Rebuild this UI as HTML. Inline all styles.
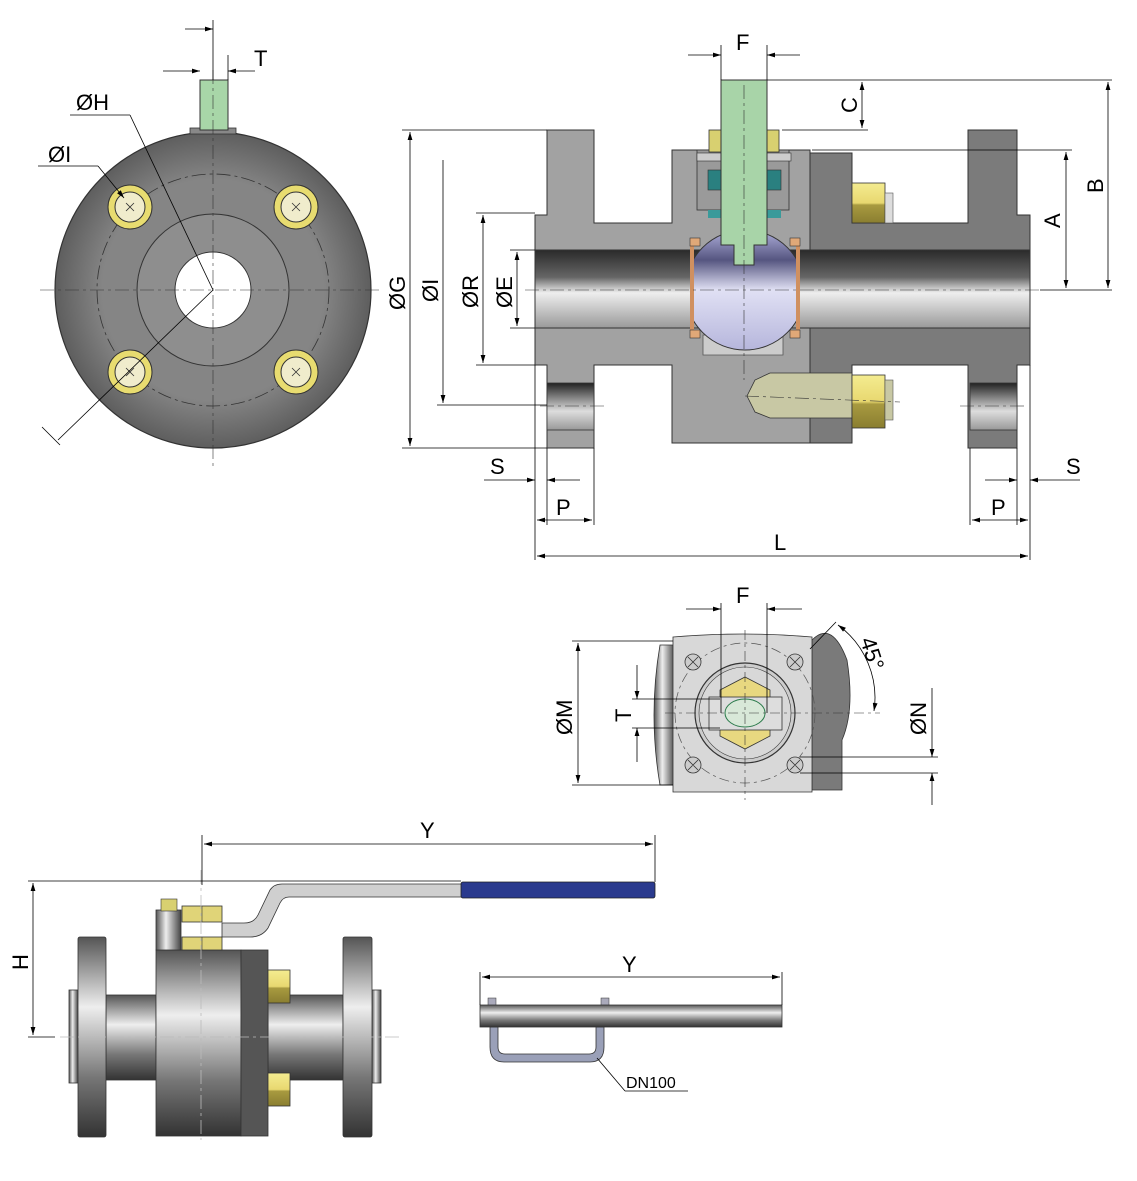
<!DOCTYPE html>
<html><head><meta charset="utf-8"><style>
html,body{margin:0;padding:0;background:#fff}
svg{display:block}
text{font-family:"Liberation Sans",sans-serif;fill:#000}
</style></head><body>
<svg width="1137" height="1181" viewBox="0 0 1137 1181" xmlns="http://www.w3.org/2000/svg">
<defs>
<marker id="a" viewBox="0 0 10 6" refX="10" refY="3" markerWidth="14" markerHeight="6" orient="auto-start-reverse"><path d="M0,0 L10,3 L0,6 z" fill="#000"/></marker>
<linearGradient id="bore" x1="0" y1="0" x2="0" y2="1"><stop offset="0" stop-color="#2a2a2a"/><stop offset="0.35" stop-color="#666"/><stop offset="0.55" stop-color="#eee"/><stop offset="1" stop-color="#999"/></linearGradient>
<linearGradient id="ball" x1="0" y1="0" x2="0" y2="1"><stop offset="0" stop-color="#b0b0dc"/><stop offset="0.25" stop-color="#555580"/><stop offset="0.5" stop-color="#e0e0f4"/><stop offset="1" stop-color="#b6b6dc"/></linearGradient>
<linearGradient id="cyl" x1="0" y1="0" x2="0" y2="1"><stop offset="0" stop-color="#555"/><stop offset="0.35" stop-color="#eee"/><stop offset="0.7" stop-color="#777"/><stop offset="1" stop-color="#333"/></linearGradient>
<linearGradient id="cylh" x1="0" y1="0" x2="1" y2="0"><stop offset="0" stop-color="#555"/><stop offset="0.4" stop-color="#eee"/><stop offset="1" stop-color="#444"/></linearGradient>
<linearGradient id="hole" x1="0" y1="0" x2="0" y2="1"><stop offset="0" stop-color="#222"/><stop offset="0.6" stop-color="#ddd"/><stop offset="1" stop-color="#999"/></linearGradient>
<radialGradient id="disk" cx="0.5" cy="0.5" r="0.5"><stop offset="0.7" stop-color="#858585"/><stop offset="1" stop-color="#5e5e5e"/></radialGradient>
<linearGradient id="nut" x1="0" y1="0" x2="0" y2="1"><stop offset="0" stop-color="#f4ec90"/><stop offset="0.5" stop-color="#e8d870"/><stop offset="0.55" stop-color="#a89a40"/><stop offset="1" stop-color="#8a7e30"/></linearGradient>
</defs>

<!-- ============ FRONT FLANGE VIEW ============ -->
<circle cx="213" cy="290" r="158" fill="url(#disk)" stroke="#333" stroke-width="1.2"/>
<circle cx="213" cy="290" r="116" fill="none" stroke="#333" stroke-width="0.8" stroke-dasharray="14 4 3 4"/>
<circle cx="213" cy="290" r="76" fill="#8e8e8e" stroke="#333" stroke-width="1"/>
<circle cx="213" cy="290" r="38" fill="#fff" stroke="#333" stroke-width="1"/>
<rect x="190" y="128" width="46" height="6" fill="#888" stroke="#333" stroke-width="0.8"/>
<rect x="200" y="80" width="28" height="50" fill="#a8d6a8" stroke="#333" stroke-width="1"/>
<line x1="213" y1="70" x2="213" y2="470" stroke="#333" stroke-width="0.6" stroke-dasharray="14 4 3 4"/>
<line x1="40" y1="290" x2="380" y2="290" stroke="#333" stroke-width="0.6" stroke-dasharray="14 4 3 4"/>
<g stroke="#333" stroke-width="1">
<circle cx="130" cy="207" r="22" fill="#e8dc70"/><circle cx="130" cy="207" r="15" fill="#f0eccc"/>
<circle cx="296" cy="207" r="22" fill="#e8dc70"/><circle cx="296" cy="207" r="15" fill="#f0eccc"/>
<circle cx="130" cy="372" r="22" fill="#e8dc70"/><circle cx="130" cy="372" r="15" fill="#f0eccc"/>
<circle cx="296" cy="372" r="22" fill="#e8dc70"/><circle cx="296" cy="372" r="15" fill="#f0eccc"/>
</g>
<g stroke="#333" stroke-width="0.8">
<path d="M126,203 l8,8 M134,203 l-8,8 M292,203 l8,8 M300,203 l-8,8 M126,368 l8,8 M134,368 l-8,8 M292,368 l8,8 M300,368 l-8,8"/>
</g>
<g stroke="#000" stroke-width="0.8" fill="none">
<line x1="213" y1="20" x2="213" y2="80"/>
<line x1="228" y1="55" x2="228" y2="80"/>
<line x1="185" y1="29" x2="213" y2="29" marker-end="url(#a)"/>
<line x1="163" y1="71" x2="200" y2="71" marker-end="url(#a)"/>
<line x1="255" y1="71" x2="228" y2="71" marker-end="url(#a)"/>
<line x1="70" y1="115" x2="130" y2="115"/>
<line x1="130" y1="115" x2="213" y2="290"/>
<line x1="38" y1="166" x2="98" y2="166"/>
<line x1="98" y1="166" x2="124" y2="198" marker-end="url(#a)"/>
<line x1="213" y1="290" x2="58" y2="440"/>
<line x1="42" y1="427" x2="60" y2="445"/>
</g>
<text x="254" y="66" font-size="22">T</text>
<text x="76" y="110" font-size="22">ØH</text>
<text x="48" y="162" font-size="22">ØI</text>

<!-- ============ SECTION VIEW ============ -->
<path d="M547,130 h47 v93 h78 v-73 h138 v293 h-138 v-78 h-78 v83 h-47 v-83 h-12 v-150 h12 z" fill="#a2a2a2" stroke="#333" stroke-width="1"/>
<path d="M810,153 h42 v70 h116 v-93 h49 v85 h13 v150 h-13 v83 h-49 v-83 h-116 v78 h-42 z" fill="#7b7b7b" stroke="#333" stroke-width="1"/>
<rect x="535" y="250" width="495" height="78" fill="url(#bore)" stroke="#333" stroke-width="1"/>
<rect x="547" y="383" width="47" height="47" fill="url(#hole)" stroke="#333" stroke-width="0.8"/>
<rect x="970" y="383" width="47" height="47" fill="url(#hole)" stroke="#333" stroke-width="0.8"/>
<path d="M703,335 h80 v20 h-80 z" fill="#ccc" stroke="#555" stroke-width="0.8"/>
<clipPath id="bc"><rect x="694" y="225" width="103" height="140"/></clipPath>
<circle cx="745" cy="290" r="60" fill="url(#ball)" stroke="#333" stroke-width="1" clip-path="url(#bc)"/>
<rect x="690" y="238" width="4" height="92" fill="#d09060"/>
<rect x="796" y="238" width="4" height="92" fill="#d09060"/>
<rect x="690" y="238" width="10" height="8" fill="#e0a878" stroke="#333" stroke-width="0.6"/>
<rect x="790" y="238" width="10" height="8" fill="#e0a878" stroke="#333" stroke-width="0.6"/>
<rect x="690" y="330" width="10" height="8" fill="#e0a878" stroke="#333" stroke-width="0.6"/>
<rect x="790" y="330" width="10" height="8" fill="#e0a878" stroke="#333" stroke-width="0.6"/>
<rect x="697" y="150" width="92" height="60" fill="#9a9a9a" stroke="#333" stroke-width="0.8"/>
<rect x="709" y="130" width="14" height="22" fill="#d8d070" stroke="#333" stroke-width="0.8"/>
<rect x="765" y="130" width="14" height="22" fill="#d8d070" stroke="#333" stroke-width="0.8"/>
<rect x="697" y="153" width="26" height="8" fill="#ccc" stroke="#333" stroke-width="0.6"/>
<rect x="765" y="153" width="26" height="8" fill="#ccc" stroke="#333" stroke-width="0.6"/>
<rect x="708" y="170" width="14" height="20" fill="#2a8080" stroke="#333" stroke-width="0.6"/>
<rect x="767" y="170" width="14" height="20" fill="#2a8080" stroke="#333" stroke-width="0.6"/>
<rect x="708" y="210" width="14" height="8" fill="#3a9a9a"/>
<rect x="767" y="210" width="14" height="8" fill="#3a9a9a"/>
<path d="M721,80 h46 v165 h-13 v20 h-20 v-20 h-13 z" fill="#a8d4a8" stroke="#333" stroke-width="1"/>
<rect x="852" y="183" width="33" height="40" fill="url(#nut)" stroke="#333" stroke-width="0.8"/>
<rect x="885" y="193" width="8" height="30" fill="#ddd" stroke="#555" stroke-width="0.6"/>
<path d="M770,373 h82 v45 h-82 l-15,-6 l-8,-16 l8,-16 z" fill="#c8c8a4" stroke="#333" stroke-width="0.8"/>
<rect x="852" y="375" width="33" height="53" fill="url(#nut)" stroke="#333" stroke-width="0.8"/>
<rect x="885" y="380" width="8" height="40" fill="#c8c8a4" stroke="#555" stroke-width="0.6"/>
<g stroke="#333" stroke-width="0.6" stroke-dasharray="14 4 3 4" fill="none">
<line x1="744" y1="85" x2="744" y2="380"/>
<line x1="525" y1="290" x2="1040" y2="290"/>
<line x1="540" y1="406" x2="605" y2="406"/>
<line x1="960" y1="406" x2="1025" y2="406"/>
<line x1="745" y1="396" x2="900" y2="402"/>
</g>
<g stroke="#000" stroke-width="0.8" fill="none">
<line x1="721" y1="45" x2="721" y2="80"/><line x1="767" y1="45" x2="767" y2="80"/>
<line x1="688" y1="55" x2="721" y2="55" marker-end="url(#a)"/>
<line x1="800" y1="55" x2="767" y2="55" marker-end="url(#a)"/>
<line x1="767" y1="80" x2="1112" y2="80"/>
<line x1="782" y1="130" x2="868" y2="130"/>
<line x1="862" y1="82" x2="862" y2="128" marker-start="url(#a)" marker-end="url(#a)"/>
<line x1="812" y1="150" x2="1072" y2="150"/>
<line x1="1040" y1="290" x2="1112" y2="290"/>
<line x1="1066" y1="152" x2="1066" y2="288" marker-start="url(#a)" marker-end="url(#a)"/>
<line x1="1108" y1="82" x2="1108" y2="288" marker-start="url(#a)" marker-end="url(#a)"/>
<line x1="402" y1="130" x2="547" y2="130"/>
<line x1="402" y1="448" x2="547" y2="448"/>
<line x1="410" y1="132" x2="410" y2="446" marker-start="url(#a)" marker-end="url(#a)"/>
<line x1="437" y1="405" x2="547" y2="405"/>
<line x1="443" y1="160" x2="443" y2="403" marker-end="url(#a)"/>
<line x1="476" y1="213" x2="535" y2="213"/>
<line x1="476" y1="365" x2="535" y2="365"/>
<line x1="483" y1="215" x2="483" y2="363" marker-start="url(#a)" marker-end="url(#a)"/>
<line x1="510" y1="250" x2="535" y2="250"/>
<line x1="510" y1="328" x2="535" y2="328"/>
<line x1="517" y1="252" x2="517" y2="326" marker-start="url(#a)" marker-end="url(#a)"/>
<line x1="535" y1="365" x2="535" y2="560"/>
<line x1="547" y1="448" x2="547" y2="525"/>
<line x1="594" y1="448" x2="594" y2="525"/>
<line x1="484" y1="480" x2="535" y2="480" marker-end="url(#a)"/>
<line x1="580" y1="480" x2="547" y2="480" marker-end="url(#a)"/>
<line x1="537" y1="520" x2="592" y2="520" marker-start="url(#a)" marker-end="url(#a)"/>
<line x1="1030" y1="365" x2="1030" y2="560"/>
<line x1="1017" y1="448" x2="1017" y2="525"/>
<line x1="970" y1="448" x2="970" y2="525"/>
<line x1="1080" y1="480" x2="1030" y2="480" marker-end="url(#a)"/>
<line x1="985" y1="480" x2="1017" y2="480" marker-end="url(#a)"/>
<line x1="972" y1="520" x2="1028" y2="520" marker-start="url(#a)" marker-end="url(#a)"/>
<line x1="537" y1="556" x2="1028" y2="556" marker-start="url(#a)" marker-end="url(#a)"/>
</g>
<text x="736" y="50" font-size="22">F</text>
<text transform="translate(857,113) rotate(-90)" font-size="22">C</text>
<text transform="translate(1060,228) rotate(-90)" font-size="22">A</text>
<text transform="translate(1103,193) rotate(-90)" font-size="22">B</text>
<text transform="translate(405,310) rotate(-90)" font-size="22">ØG</text>
<text transform="translate(438,302) rotate(-90)" font-size="22">ØI</text>
<text transform="translate(478,308) rotate(-90)" font-size="22">ØR</text>
<text transform="translate(512,308) rotate(-90)" font-size="22">ØE</text>
<text x="490" y="474" font-size="22">S</text>
<text x="556" y="515" font-size="22">P</text>
<text x="1066" y="474" font-size="22">S</text>
<text x="991" y="515" font-size="22">P</text>
<text x="774" y="550" font-size="22">L</text>

<!-- ============ TOP VIEW ============ -->
<path d="M660,645 h15 v140 h-15 q-12,-70 0,-140 z" fill="url(#cylh)" stroke="#333" stroke-width="0.8"/>
<path d="M812,640 q20,-20 35,20 q8,50 -5,80 v50 h-30 z" fill="#7a7a7a" stroke="#333" stroke-width="0.8"/>
<path d="M673,637 q70,-6 139,0 v155 h-139 z" fill="#d8d8d8" stroke="#333" stroke-width="0.8"/>
<circle cx="745" cy="713" r="70" fill="none" stroke="#555" stroke-width="0.7" stroke-dasharray="10 4 3 4"/>
<circle cx="745" cy="713" r="50" fill="#ccc" stroke="#333" stroke-width="1.2"/>
<circle cx="745" cy="713" r="46" fill="#d8d8d8" stroke="#333" stroke-width="0.6"/>
<polygon points="745,677 770,690 770,736 745,749 720,736 720,690" fill="#e8d880" stroke="#333" stroke-width="0.8"/>
<rect x="709" y="697" width="73" height="33" fill="#ddd" stroke="#333" stroke-width="0.8"/>
<ellipse cx="745" cy="713" rx="20" ry="14" fill="#d8e8d8" stroke="#2a7a4a" stroke-width="1"/>
<g stroke="#333" stroke-width="0.8">
<circle cx="693" cy="662" r="8" fill="#ccc"/><circle cx="795" cy="662" r="8" fill="#ccc"/>
<circle cx="693" cy="765" r="8" fill="#ccc"/><circle cx="795" cy="765" r="8" fill="#ccc"/>
<path d="M688,657 l10,10 M698,657 l-10,10 M790,657 l10,10 M800,657 l-10,10 M688,760 l10,10 M698,760 l-10,10 M790,760 l10,10 M800,760 l-10,10"/>
</g>
<g stroke="#333" stroke-width="0.6" stroke-dasharray="10 4 3 4">
<line x1="745" y1="630" x2="745" y2="800"/>
<line x1="665" y1="713" x2="880" y2="713"/>
</g>
<g stroke="#000" stroke-width="0.8" fill="none">
<line x1="721" y1="603" x2="721" y2="713"/><line x1="767" y1="603" x2="767" y2="713"/>
<line x1="686" y1="609" x2="721" y2="609" marker-end="url(#a)"/>
<line x1="802" y1="609" x2="767" y2="609" marker-end="url(#a)"/>
<line x1="572" y1="641" x2="673" y2="641"/>
<line x1="572" y1="785" x2="673" y2="785"/>
<line x1="578" y1="643" x2="578" y2="783" marker-start="url(#a)" marker-end="url(#a)"/>
<line x1="632" y1="699" x2="720" y2="699"/>
<line x1="632" y1="728" x2="720" y2="728"/>
<line x1="637" y1="665" x2="637" y2="699" marker-end="url(#a)"/>
<line x1="637" y1="762" x2="637" y2="728" marker-end="url(#a)"/>
<line x1="810" y1="649" x2="836" y2="622"/>
<path d="M838,625 A90,90 0 0 1 874,711" marker-start="url(#a)" marker-end="url(#a)"/>
<line x1="800" y1="757" x2="938" y2="757"/>
<line x1="800" y1="773" x2="938" y2="773"/>
<line x1="932" y1="688" x2="932" y2="757" marker-end="url(#a)"/>
<line x1="932" y1="805" x2="932" y2="773" marker-end="url(#a)"/>
</g>
<text x="736" y="603" font-size="22">F</text>
<text transform="translate(572,735) rotate(-90)" font-size="22">ØM</text>
<text transform="translate(631,722) rotate(-90)" font-size="22">T</text>
<text transform="translate(926,735) rotate(-90)" font-size="22">ØN</text>
<text transform="translate(860,640) rotate(72)" font-size="22">45°</text>

<!-- ============ SIDE VIEW ============ -->
<rect x="69" y="990" width="9" height="93" fill="url(#cylh)" stroke="#333" stroke-width="0.8"/>
<rect x="372" y="990" width="9" height="93" fill="url(#cylh)" stroke="#333" stroke-width="0.8"/>
<rect x="106" y="995" width="50" height="85" fill="url(#cyl)" stroke="#333" stroke-width="0.8"/>
<rect x="268" y="995" width="75" height="85" fill="url(#cyl)" stroke="#333" stroke-width="0.8"/>
<rect x="78" y="937" width="28" height="200" rx="2" fill="url(#cyl)" stroke="#333" stroke-width="0.8"/>
<rect x="343" y="937" width="29" height="200" rx="2" fill="url(#cyl)" stroke="#333" stroke-width="0.8"/>
<rect x="156" y="950" width="85" height="186" fill="url(#cyl)" stroke="#333" stroke-width="0.8"/>
<rect x="241" y="950" width="27" height="186" fill="#555" stroke="#333" stroke-width="0.8"/>
<rect x="268" y="970" width="22" height="33" fill="url(#nut)" stroke="#333" stroke-width="0.8"/>
<rect x="268" y="1073" width="22" height="33" fill="url(#nut)" stroke="#333" stroke-width="0.8"/>
<rect x="156" y="910" width="25" height="40" fill="url(#cylh)" stroke="#333" stroke-width="0.8"/>
<rect x="161" y="899" width="16" height="12" fill="#d8d070" stroke="#333" stroke-width="0.6"/>
<rect x="182" y="906" width="40" height="16" fill="#e0d478" stroke="#333" stroke-width="0.8"/>
<rect x="182" y="937" width="40" height="13" fill="#e0d478" stroke="#333" stroke-width="0.8"/>
<line x1="202" y1="906" x2="202" y2="922" stroke="#333" stroke-width="0.6"/>
<line x1="202" y1="937" x2="202" y2="950" stroke="#333" stroke-width="0.6"/>
<path d="M222,923 h22 q10,0 14,-8 l12,-25 q4,-6 12,-6 h180 v13 h-173 q-6,0 -9,6 l-12,25 q-6,9 -18,9 h-28 z" fill="#cfcfcf" stroke="#333" stroke-width="0.8"/>
<rect x="461" y="882" width="194" height="16" rx="2" fill="#2a3a8e" stroke="#222" stroke-width="0.8"/>
<g stroke="#bbb" stroke-width="0.8" stroke-dasharray="14 4 3 4"><line x1="60" y1="1037" x2="400" y2="1037"/><line x1="201" y1="870" x2="201" y2="1140"/></g>
<g stroke="#000" stroke-width="0.8" fill="none">
<line x1="202" y1="835" x2="202" y2="885"/>
<line x1="655" y1="835" x2="655" y2="882"/>
<line x1="204" y1="844" x2="653" y2="844" marker-start="url(#a)" marker-end="url(#a)"/>
<line x1="28" y1="881" x2="461" y2="881"/>
<line x1="28" y1="1037" x2="55" y2="1037"/>
<line x1="33" y1="883" x2="33" y2="1035" marker-start="url(#a)" marker-end="url(#a)"/>
</g>
<text x="420" y="838" font-size="22">Y</text>
<text transform="translate(28,970) rotate(-90)" font-size="22">H</text>

<path d="M490,1027 v20 q0,15 14,15 h86 q14,0 14,-15 v-20 h-8 v20 q0,7 -7,7 h-84 q-7,0 -7,-7 v-20 z" fill="#9aa0b8" stroke="#333" stroke-width="0.8"/>
<rect x="488" y="998" width="8" height="8" fill="#aab" stroke="#333" stroke-width="0.5"/>
<rect x="601" y="998" width="8" height="8" fill="#aab" stroke="#333" stroke-width="0.5"/>
<rect x="480" y="1005" width="302" height="22" fill="url(#cyl)" stroke="#333" stroke-width="0.8"/>
<g stroke="#000" stroke-width="0.8" fill="none">
<line x1="480" y1="972" x2="480" y2="1005"/>
<line x1="782" y1="972" x2="782" y2="1005"/>
<line x1="482" y1="977" x2="780" y2="977" marker-start="url(#a)" marker-end="url(#a)"/>
<line x1="597" y1="1058" x2="625" y2="1091"/>
<line x1="625" y1="1091" x2="688" y2="1091"/>
</g>
<text x="622" y="972" font-size="22">Y</text>
<text x="626" y="1088" font-size="16">DN100</text>
</svg>
</body></html>
